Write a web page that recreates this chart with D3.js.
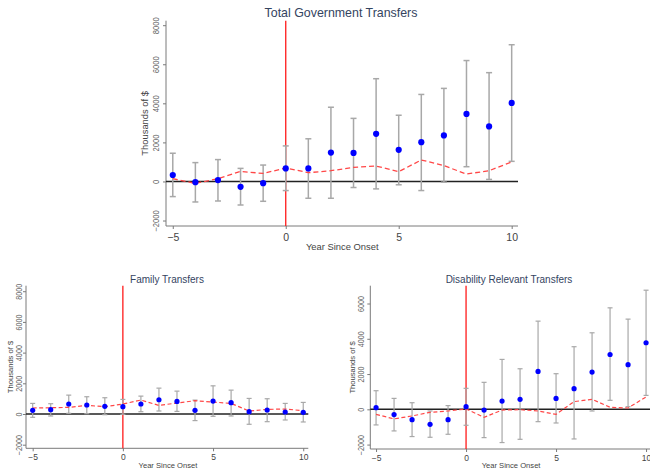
<!DOCTYPE html>
<html>
<head>
<meta charset="utf-8">
<script src="https://cdn.jsdelivr.net/npm/d3@7"></script>
<style>
  html, body { margin: 0; padding: 0; background: #fff; }
  svg { display: block; font-family: "Liberation Sans", Arial, sans-serif; }
</style>
</head>
<body>
<svg id="chart" width="650" height="470"></svg>
<script>
// Event-study estimates, years relative to onset
const years = [-5, -4, -3, -2, -1, 0, 1, 2, 3, 4, 5, 6, 7, 8, 9, 10];
const xTicks = [-5, 0, 5, 10];

// Total government transfers
const totalEst   = [330, -35, 70, -275, -90, 670, 670, 1480, 1460, 2440, 1620, 2010, 2355, 3460, 2820, 4020];
const totalHigh  = [1445, 965, 1120, 670, 840, 1820, 2185, 3800, 3230, 5260, 3390, 4455, 4765, 6190, 5570, 7000];
const totalLow   = [-775, -1050, -1000, -1205, -1015, -465, -860, -860, -310, -380, -170, -465, -35, 755, 105, 1030];
const totalRef   = [140, -100, 140, 515, 410, 690, 450, 550, 720, 790, 500, 1100, 810, 380, 550, 1000];
const totalYTicks = [-2000, 0, 2000, 4000, 6000, 8000];

// Family transfers
const familyEst  = [240, 280, 650, 585, 500, 475, 650, 930, 820, 240, 840, 735, 150, 260, 130, 110];
const familyHigh = [690, 670, 1230, 1125, 1060, 950, 1165, 1685, 1490, 905, 1835, 1555, 1015, 995, 690, 755];
const familyLow  = [-215, -130, 45, 20, -45, -20, 150, 195, 170, -430, -150, -130, -670, -500, -390, -520];
const familyRef  = [390, 410, 430, 560, 475, 650, 910, 560, 715, 865, 780, 690, 195, 300, 325, 215];
const familyYTicks = [-2000, 0, 2000, 4000, 6000, 8000];

// Disability relevant transfers
const disabEst   = [95, -300, -585, -850, -585, 150, -40, 470, 565, 2150, 620, 1170, 2110, 3110, 2530, 3775];
const disabHigh  = [1055, 620, 375, -95, 210, 1190, 1530, 2830, 2300, 5000, 2020, 3550, 4340, 5755, 5115, 6755];
const disabLow   = [-885, -1225, -1545, -1585, -1415, -905, -1605, -1885, -1700, -700, -775, -1680, -95, 510, 150, 790];
const disabRef   = [-285, -545, -375, -170, -95, 20, -455, -40, -20, -95, -285, 435, 565, 115, 75, 700];
const disabYTicks = [-2000, 0, 2000, 4000, 6000];

const svg = d3.select("#chart");

function panel(cfg) {
  const g = svg.append("g");
  const x = d3.scaleLinear().domain(cfg.xDomain).range([cfg.left, cfg.right]);
  const y = d3.scaleLinear().domain(cfg.yDomain).range([cfg.bottom, cfg.top]);
  const rows = years.map((yr, i) => ({
    yr, est: cfg.est[i], hi: cfg.high[i], lo: cfg.low[i], ref: cfg.ref[i]
  }));

  // title
  g.append("text")
    .attr("x", cfg.titleX).attr("y", cfg.titleY)
    .attr("text-anchor", "middle")
    .attr("font-size", cfg.titleSize)
    .attr("fill", "#34445f")
    .text(cfg.title);

  // y axis (rotated tick labels)
  const yAxis = d3.axisLeft(y).tickValues(cfg.yTicks).tickSize(3).tickFormat(d3.format("d"));
  const ya = g.append("g").attr("transform", `translate(${cfg.left},0)`).call(yAxis);
  ya.select(".domain").attr("stroke", "#7a7a7a").attr("d", `M0,${cfg.top}V${cfg.bottom}`);
  ya.selectAll(".tick line").attr("stroke", "#7a7a7a");
  ya.selectAll(".tick text")
    .attr("x", null).attr("dy", null)
    .attr("transform", `translate(${-cfg.yLabelOffset},0) rotate(-90) scale(0.85,1)`)
    .attr("text-anchor", "middle")
    .attr("font-size", cfg.yTickSize)
    .attr("font-family", "'Liberation Sans', Arial, sans-serif")
    .attr("fill", "#666");

  // x axis
  const xAxis = d3.axisBottom(x).tickValues(xTicks).tickSize(3).tickFormat(d3.format("d"));
  const xa = g.append("g").attr("transform", `translate(0,${cfg.bottom})`).call(xAxis);
  xa.select(".domain").attr("stroke", "#7a7a7a").attr("d", `M${cfg.left},0H${cfg.right}`);
  xa.selectAll(".tick line").attr("stroke", "#7a7a7a");
  xa.selectAll(".tick text")
    .attr("y", cfg.xLabelOffset).attr("dy", null)
    .attr("font-size", cfg.xTickSize)
    .attr("font-family", "'Liberation Sans', Arial, sans-serif")
    .attr("fill", "#444");

  // axis titles
  g.append("text")
    .attr("x", x(2.5)).attr("y", cfg.xTitleY)
    .attr("text-anchor", "middle")
    .attr("font-size", cfg.axisTitleSize)
    .attr("fill", "#444")
    .text("Year Since Onset");
  g.append("text")
    .attr("transform", `translate(${cfg.yTitleX},${(cfg.top + cfg.bottom) / 2}) rotate(-90)`)
    .attr("text-anchor", "middle")
    .attr("font-size", cfg.axisTitleSize)
    .attr("fill", "#444")
    .text("Thousands of $");

  // zero reference line
  g.append("line")
    .attr("x1", cfg.left).attr("x2", cfg.right)
    .attr("y1", y(0)).attr("y2", y(0))
    .attr("stroke", "#222").attr("stroke-width", 1.4);

  // onset marker
  g.append("line")
    .attr("x1", x(0)).attr("x2", x(0))
    .attr("y1", cfg.top).attr("y2", cfg.bottom)
    .attr("stroke", "#ff1a1a").attr("stroke-width", 1.3);

  // confidence intervals
  const ci = g.append("g").attr("stroke", "#a8a8a8").attr("stroke-width", cfg.ciWidth);
  ci.selectAll("line.v").data(rows).join("line").attr("class", "v")
    .attr("x1", d => x(d.yr)).attr("x2", d => x(d.yr))
    .attr("y1", d => y(d.hi)).attr("y2", d => y(d.lo));
  ci.selectAll("line.t").data(rows).join("line").attr("class", "t")
    .attr("x1", d => x(d.yr) - cfg.cap).attr("x2", d => x(d.yr) + cfg.cap)
    .attr("y1", d => y(d.hi)).attr("y2", d => y(d.hi));
  ci.selectAll("line.b").data(rows).join("line").attr("class", "b")
    .attr("x1", d => x(d.yr) - cfg.cap).attr("x2", d => x(d.yr) + cfg.cap)
    .attr("y1", d => y(d.lo)).attr("y2", d => y(d.lo));

  // comparison path
  g.append("path")
    .datum(rows)
    .attr("fill", "none")
    .attr("stroke", "#ff4747")
    .attr("stroke-width", cfg.refWidth)
    .attr("stroke-dasharray", cfg.dash)
    .attr("d", d3.line().x(d => x(d.yr)).y(d => y(d.ref)));

  // point estimates
  g.selectAll("circle").data(rows).join("circle")
    .attr("cx", d => x(d.yr)).attr("cy", d => y(d.est))
    .attr("r", cfg.r)
    .attr("fill", "#0000ff");
}

panel({
  title: "Total Government Transfers", titleX: 341, titleY: 17, titleSize: 12.4,
  left: 166, right: 518, top: 20.7, bottom: 226,
  xDomain: [-5.3, 10.28], yDomain: [-2280, 8230],
  yTicks: totalYTicks, est: totalEst, high: totalHigh, low: totalLow, ref: totalRef,
  yTickSize: 9, yLabelOffset: 7, xTickSize: 10.5, xLabelOffset: 15,
  axisTitleSize: 9.4, xTitleY: 250, yTitleX: 148,
  ciWidth: 1.5, cap: 3, r: 3.1, refWidth: 1.3, dash: "5,3"
});

panel({
  title: "Family Transfers", titleX: 167, titleY: 282.5, titleSize: 10,
  left: 26, right: 308.3, top: 285.7, bottom: 448.3,
  xDomain: [-5.37, 10.28], yDomain: [-2235, 8360],
  yTicks: familyYTicks, est: familyEst, high: familyHigh, low: familyLow, ref: familyRef,
  yTickSize: 8.5, yLabelOffset: 4.5, xTickSize: 8.5, xLabelOffset: 12,
  axisTitleSize: 7.6, xTitleY: 468, yTitleX: 13,
  ciWidth: 1.2, cap: 2.5, r: 2.6, refWidth: 1.2, dash: "4,2.5"
});

panel({
  title: "Disability Relevant Transfers", titleX: 509, titleY: 282.5, titleSize: 10,
  left: 370.3, right: 652, top: 285.7, bottom: 449,
  xDomain: [-5.32, 10.33], yDomain: [-2250, 7010],
  yTicks: disabYTicks, est: disabEst, high: disabHigh, low: disabLow, ref: disabRef,
  yTickSize: 8.5, yLabelOffset: 6, xTickSize: 8.5, xLabelOffset: 12,
  axisTitleSize: 7.6, xTitleY: 468, yTitleX: 355,
  ciWidth: 1.2, cap: 2.5, r: 2.6, refWidth: 1.2, dash: "4,2.5"
});
</script>
</body>
</html>
